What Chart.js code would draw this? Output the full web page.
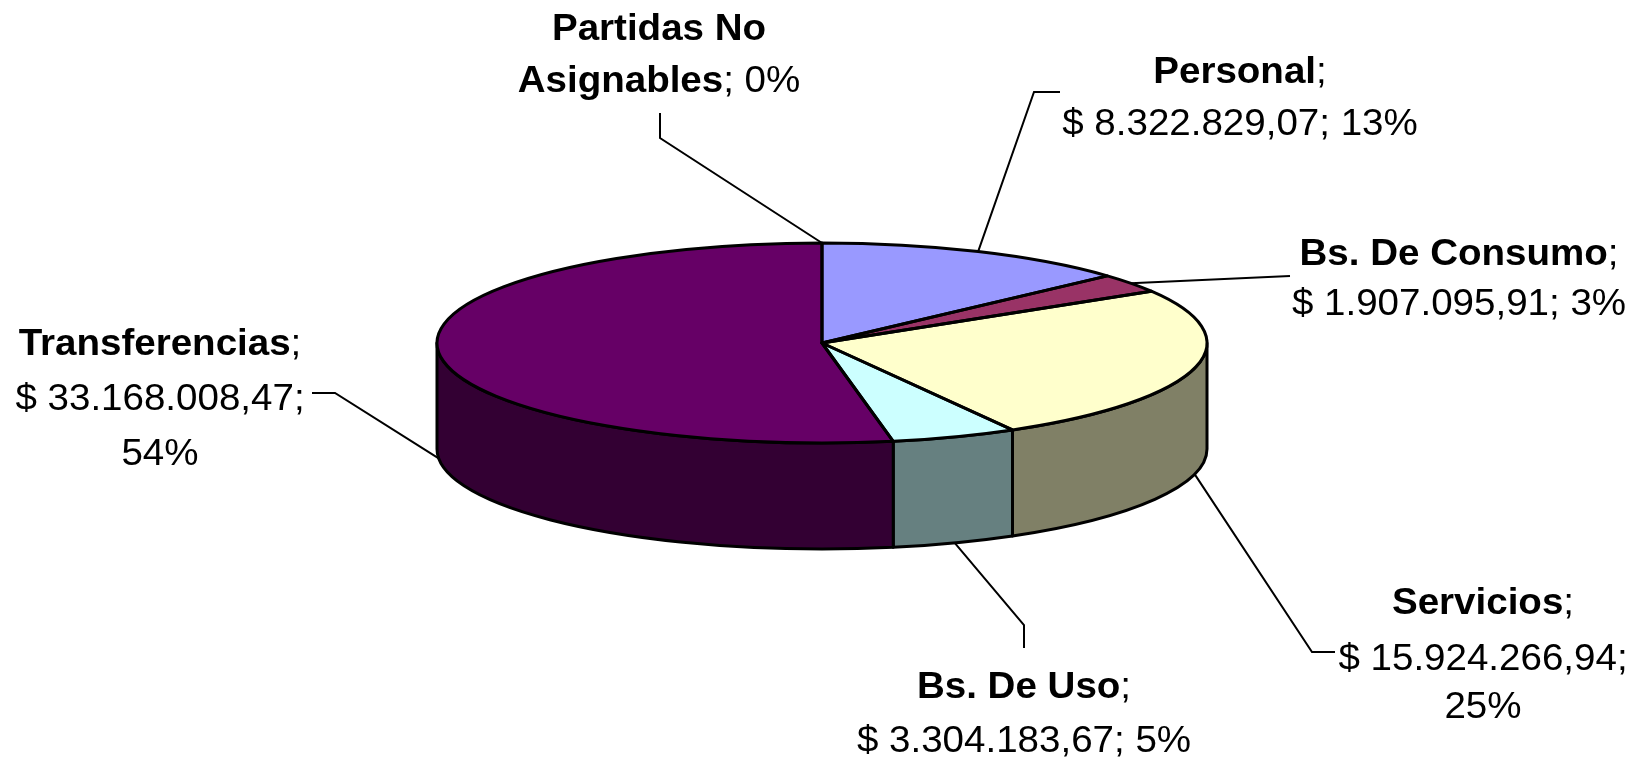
<!DOCTYPE html>
<html><head><meta charset="utf-8">
<script src="https://cdn.jsdelivr.net/npm/chart.js@4.4.1/dist/chart.umd.min.js"></script>
<style>html,body{margin:0;padding:0;background:#fff;overflow:hidden}canvas{display:block}</style>
</head><body>
<canvas id="c" width="1642" height="758"></canvas>
<script>
// ---- data ----
const categories = ['Personal', 'Bs. De Consumo', 'Servicios', 'Bs. De Uso', 'Transferencias', 'Partidas No Asignables'];
const values = [8322829.07, 1907095.91, 15924266.94, 3304183.67, 33168008.47, 0];
const percentLabels = ['13%', '3%', '25%', '5%', '54%', '0%'];

// ---- styles / layout ----
const topColors  = ['#9999FF', '#993366', '#FFFFCC', '#CCFFFF', '#660066', '#FF8080'];
const sideColors = ['#4C4C80', '#4C1933', '#808066', '#668080', '#330033', '#804040'];
const RX = 385, RY = 100, DEPTH = 106;
const FONT = '"Liberation Sans", Arial, sans-serif';
const FS = 36, SX = 1.07;
const labelLayout = [
  {x: 1240, base: [83, 135], mode: 'A', elbow: [[1034, 92], [1060, 92]]},
  {x: 1459, base: [265, 315], mode: 'A', elbow: [[1268, 277], [1290, 276]]},
  {x: 1483, base: [614, 670, 718], mode: 'B', elbow: [[1312, 652], [1335, 652]]},
  {x: 1024, base: [698, 752], mode: 'A', elbow: [[1024, 625], [1024, 648]]},
  {x: 160,  base: [355, 410, 465], mode: 'B', elbow: [[335, 393], [312, 393]]},
  {x: 659,  base: [40, 92], mode: 'C', elbow: [[660, 138], [660, 113]]}
];

function fmtMoney(v) {
  const parts = v.toFixed(2).split('.');
  const int = parts[0].replace(/\B(?=(\d{3})+(?!\d))/g, '.');
  return '$ ' + int + ',' + parts[1];
}

function labelLines(i) {
  const name = categories[i], val = fmtMoney(values[i]), pct = percentLabels[i];
  const mode = labelLayout[i].mode;
  if (mode === 'A') return [[[name, true], [';', false]], [[val + '; ' + pct, false]]];
  if (mode === 'B') return [[[name, true], [';', false]], [[val + ';', false]], [[pct, false]]];
  const w = name.split(' ');
  const last = w.pop();
  return [[[w.join(' '), true]], [[last, true], ['; ' + pct, false]]];
}

function geom(chart) {
  const arcs = chart.getDatasetMeta(0).data;
  const a0 = arcs[0];
  return {arcs, cx: a0.x, cy: a0.y, r: a0.outerRadius};
}

const pie3d = {
  id: 'pie3d',
  beforeDatasetsDraw(chart) {
    const ctx = chart.ctx;
    const {arcs, cx, cy, r} = geom(chart);
    ctx.save();
    ctx.lineWidth = 3;
    ctx.strokeStyle = '#000';
    ctx.lineJoin = 'round';
    arcs.forEach((a, i) => {
      const s = Math.max(a.startAngle, 0), e = Math.min(a.endAngle, Math.PI);
      if (e - s <= 1e-6) return;
      ctx.beginPath();
      ctx.ellipse(cx, cy, RX, RY, 0, s, e, false);
      ctx.lineTo(cx + RX * Math.cos(e), cy + RY * Math.sin(e) + DEPTH);
      ctx.ellipse(cx, cy + DEPTH, RX, RY, 0, e, s, true);
      ctx.closePath();
      ctx.fillStyle = sideColors[i];
      ctx.fill();
      ctx.stroke();
    });
    ctx.restore();
    ctx.save();
    ctx.translate(cx, cy);
    ctx.scale(RX / r, RY / r);
    ctx.translate(-cx, -cy);
  },
  afterDatasetsDraw(chart) {
    const ctx = chart.ctx;
    ctx.restore();
    const {arcs, cx, cy} = geom(chart);
    ctx.save();
    ctx.lineWidth = 3;
    ctx.strokeStyle = '#000';
    ctx.lineJoin = 'round';
    arcs.forEach((a) => {
      if (a.endAngle - a.startAngle <= 1e-6) return;
      ctx.beginPath();
      ctx.moveTo(cx, cy);
      ctx.ellipse(cx, cy, RX, RY, 0, a.startAngle, a.endAngle, false);
      ctx.closePath();
      ctx.stroke();
    });
    ctx.lineWidth = 2;
    ctx.lineJoin = 'miter';
    arcs.forEach((a, i) => {
      const m = (a.startAngle + a.endAngle) / 2;
      let px = cx + RX * Math.cos(m), py = cy + RY * Math.sin(m);
      if (Math.sin(m) > 0.02) py += DEPTH;
      const L = labelLayout[i];
      ctx.beginPath();
      ctx.moveTo(px, py);
      L.elbow.forEach(p => ctx.lineTo(p[0], p[1]));
      ctx.stroke();
    });
    ctx.fillStyle = '#000';
    ctx.textBaseline = 'alphabetic';
    ctx.textAlign = 'left';
    arcs.forEach((a, i) => {
      const L = labelLayout[i];
      labelLines(i).forEach((line, k) => {
        let w = 0;
        const widths = line.map(([t, b]) => {
          ctx.font = (b ? 'bold ' : '') + FS + 'px ' + FONT;
          const mw = ctx.measureText(t).width;
          w += mw;
          return mw;
        });
        ctx.save();
        ctx.translate(L.x, L.base[k]);
        ctx.scale(SX, 1);
        let x = -w / 2;
        line.forEach(([t, b], j) => {
          ctx.font = (b ? 'bold ' : '') + FS + 'px ' + FONT;
          ctx.fillText(t, x, 0);
          x += widths[j];
        });
        ctx.restore();
      });
    });
    ctx.restore();
  }
};

new Chart(document.getElementById('c'), {
  type: 'pie',
  data: {
    labels: categories,
    datasets: [{
      data: values,
      backgroundColor: topColors,
      borderWidth: 0
    }]
  },
  options: {
    responsive: false,
    animation: false,
    devicePixelRatio: 1,
    events: [],
    layout: {padding: {left: 402, right: 400, top: 150, bottom: 222}},
    plugins: {legend: {display: false}, tooltip: {enabled: false}}
  },
  plugins: [pie3d]
});
</script>
</body></html>
